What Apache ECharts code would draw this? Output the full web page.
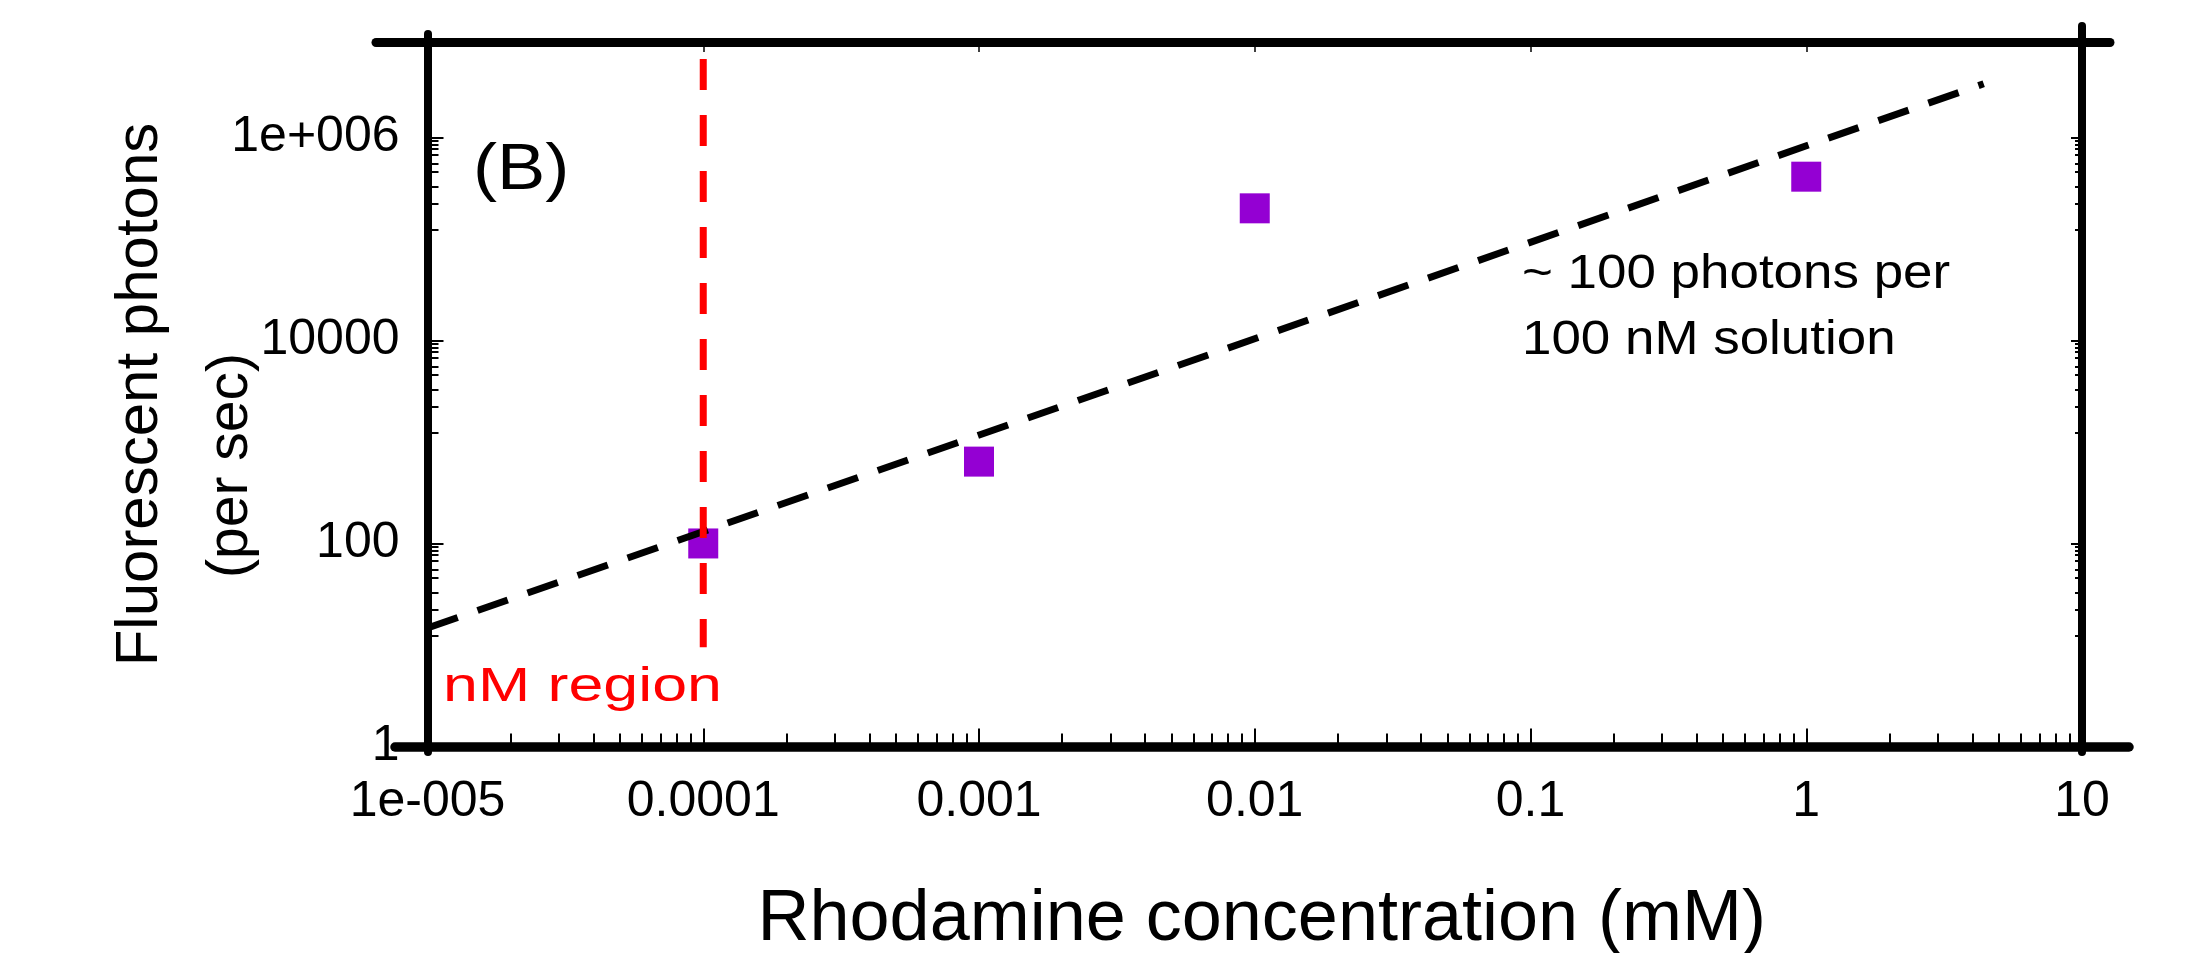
<!DOCTYPE html>
<html>
<head>
<meta charset="utf-8">
<script src="https://cdn.jsdelivr.net/npm/echarts@6/dist/echarts.min.js"></script>
<style>
html, body { margin: 0; padding: 0; background: #ffffff; }
#chart { width: 2193px; height: 953px; }
</style>
</head>
<body>
<div id="chart"></div>
<script>
// ---------------- data ----------------
const xTickValues = [1e-5, 1e-4, 1e-3, 1e-2, 1e-1, 1, 10];
const xTickLabels = ['1e-005', '0.0001', '0.001', '0.01', '0.1', '1', '10'];
const yTickValues = [1, 100, 10000, 1000000];
const yTickLabels = ['1', '100', '10000', '1e+006'];
const xMinorFactors = [2, 3, 4, 5, 6, 7, 8, 9];
const yMinorFactors = [0.927, 0.847, 0.767, 0.681, 0.546, 0.459, 0.329, 0.224, 0.122];
const xRange = [1e-5, 10];
const yRange = [1, 8.6e6];

const concentration = [0.0001, 0.001, 0.01, 1];
const photons = [100, 640, 200000, 410000];

const fitConcentration = [0.00001, 4.4];
const fitPhotons = [14.7, 3370000];

const nmConcentration = [0.0001, 0.0001];
const nmPhotons = [5900000, 9.5];

const xTitle = 'Rhodamine concentration (mM)';
const yTitleLines = ['Fluorescent photons', '(per sec)'];
const panelLabel = '(B)';
const nmLabel = 'nM region';
const noteLines = ['~ 100 photons per', '100 nM solution'];

// ---------------- helpers ----------------
const FONT = "'Liberation Sans', Arial, Helvetica, sans-serif";

const xMinor = [];
for (let i = 0; i < xTickValues.length - 1; i++) {
  xMinorFactors.forEach(f => xMinor.push(xTickValues[i] * f));
}
const yMinor = [];
for (let i = 1; i < yTickValues.length; i++) {
  yMinorFactors.forEach(f => yMinor.push(yTickValues[i] * f));
}
function labelFor(values, labels) {
  return function (v) {
    const i = values.findIndex(t => Math.abs(Math.log10(v) - Math.log10(t)) < 1e-6);
    return i >= 0 ? labels[i] : '';
  };
}
function zip(a, b) { return a.map((v, i) => [v, b[i]]); }

const GRID_MAIN = { left: 427.5, right: 111, top: 42.5, bottom: 206.5 };
const hiddenX = gi => ({ type: 'value', gridIndex: gi, show: false, min: 0, max: 1 });
const hiddenY = gi => ({ type: 'value', gridIndex: gi, show: false, min: 0, max: 1 });
const lineAxis = (gi, pos, w) => ({
  type: 'value', gridIndex: gi, position: pos, min: 0, max: 1,
  axisLine: { show: true, onZero: false, lineStyle: { color: '#000', width: w } },
  axisTick: { show: false }, axisLabel: { show: false }, splitLine: { show: false }
});
const logX = (pos, tickValues, len, width, extra) => Object.assign({
  type: 'log', logBase: 10, gridIndex: 0, position: pos, min: xRange[0], max: xRange[1],
  axisLine: { show: false, onZero: false },
  axisTick: { show: true, inside: true, length: len, customValues: tickValues, lineStyle: { color: '#000', width: width } },
  axisLabel: { show: false },
  splitLine: { show: false }, minorTick: { show: false }
}, extra || {});
const logY = (pos, tickValues, len, width, extra) => Object.assign({
  type: 'log', logBase: 10, gridIndex: 0, position: pos, min: yRange[0], max: yRange[1],
  axisLine: { show: false, onZero: false },
  axisTick: { show: true, inside: true, length: len, customValues: tickValues, lineStyle: { color: '#000', width: width } },
  axisLabel: { show: false },
  splitLine: { show: false }, minorTick: { show: false }
}, extra || {});

const option = {
  animation: false,
  backgroundColor: '#ffffff',
  grid: [
    Object.assign({ outerBoundsMode: 'none', containLabel: false }, GRID_MAIN),   // 0 main plot
    { outerBoundsMode: 'none', left: 395, right: 64, top: 42.5, bottom: 206.5 },  // 1 bottom frame line
    { outerBoundsMode: 'none', left: 376, right: 83, top: 42.5, bottom: 206.5 },  // 2 top frame line
    { outerBoundsMode: 'none', left: 427.5, right: 111, top: 34, bottom: 201 },    // 3 left frame line
    { outerBoundsMode: 'none', left: 427.5, right: 111, top: 26, bottom: 201 }     // 4 right frame line
  ],
  xAxis: [
    logX('bottom', xTickValues, 18, 2, {
      axisLabel: {
        show: true, customValues: xTickValues, formatter: labelFor(xTickValues, xTickLabels),
        margin: 31, fontSize: 50, fontFamily: FONT, color: '#000'
      },
      name: xTitle, nameLocation: 'middle', nameGap: 138, nameMoveOverlap: false,
      nameTextStyle: { fontSize: 72, fontFamily: FONT, color: '#000', padding: [0, 0, 0, 14] }
    }),
    logX('bottom', xMinor, 13, 2),
    logX('top', xTickValues, 9.5, 1.5),
    lineAxis(1, 'bottom', 9.5),
    lineAxis(2, 'top', 9),
    hiddenX(3),
    hiddenX(4)
  ],
  yAxis: [
    logY('left', yTickValues, 16, 2, {
      axisLabel: {
        show: true, customValues: yTickValues, formatter: labelFor(yTickValues, yTickLabels),
        margin: 28, fontSize: 50, fontFamily: FONT, color: '#000'
      },
      name: '{a|' + yTitleLines[0] + '}\n{b|' + yTitleLines[1] + '}',
      nameLocation: 'middle', nameGap: 151, nameMoveOverlap: false,
      nameTextStyle: {
        fontSize: 60, fontFamily: FONT, color: '#000', lineHeight: 91,
        rich: {
          a: { fontSize: 60, fontFamily: FONT, color: '#000', lineHeight: 91 },
          b: { fontSize: 57, fontFamily: FONT, color: '#000', lineHeight: 91, padding: [0, 142, 0, 0] }
        }
      }
    }),
    logY('left', yMinor, 11, 2),
    logY('right', yTickValues, 11, 2),
    logY('right', yMinor, 7, 2),
    lineAxis(3, 'left', 8),
    lineAxis(4, 'right', 8),
    hiddenY(1),
    hiddenY(2)
  ],
  series: [
    {
      name: 'measured', type: 'scatter', xAxisIndex: 0, yAxisIndex: 0,
      data: zip(concentration, photons),
      symbol: 'rect', symbolSize: 30,
      itemStyle: { color: '#9400d3', opacity: 1 }, z: 3
    },
    {
      name: 'fit', type: 'line', xAxisIndex: 0, yAxisIndex: 0,
      data: zip(fitConcentration, fitPhotons),
      showSymbol: false, symbol: 'none', silent: true,
      lineStyle: { color: '#000', width: 7, type: [32, 21], cap: 'butt', opacity: 1 }, z: 4
    },
    {
      name: 'nM', type: 'line', xAxisIndex: 0, yAxisIndex: 0,
      data: zip(nmConcentration, nmPhotons),
      showSymbol: false, symbol: 'none', silent: true,
      lineStyle: { color: '#ff0000', width: 7, type: [31, 25], cap: 'butt', opacity: 1 }, z: 5
    }
  ],
  graphic: [
    { type: 'text', x: 473, y: 171, scaleX: 1.13, z: 10, style: { text: panelLabel, fontSize: 64, fontFamily: FONT, fill: '#000', align: 'left', verticalAlign: 'middle' } },
    { type: 'text', x: 443, y: 687, scaleX: 1.28, z: 10, style: { text: nmLabel, fontSize: 49, fontFamily: FONT, fill: '#ff0000', align: 'left', verticalAlign: 'middle' } },
    { type: 'text', x: 1522, y: 274, scaleX: 1.08, z: 10, style: { text: noteLines[0], fontSize: 49, fontFamily: FONT, fill: '#000', align: 'left', verticalAlign: 'middle' } },
    { type: 'text', x: 1522, y: 340, scaleX: 1.08, z: 10, style: { text: noteLines[1], fontSize: 49, fontFamily: FONT, fill: '#000', align: 'left', verticalAlign: 'middle' } }
  ]
};

const chart = echarts.init(document.getElementById('chart'), null, { renderer: 'canvas' });
chart.setOption(option);
</script>
</body>
</html>
